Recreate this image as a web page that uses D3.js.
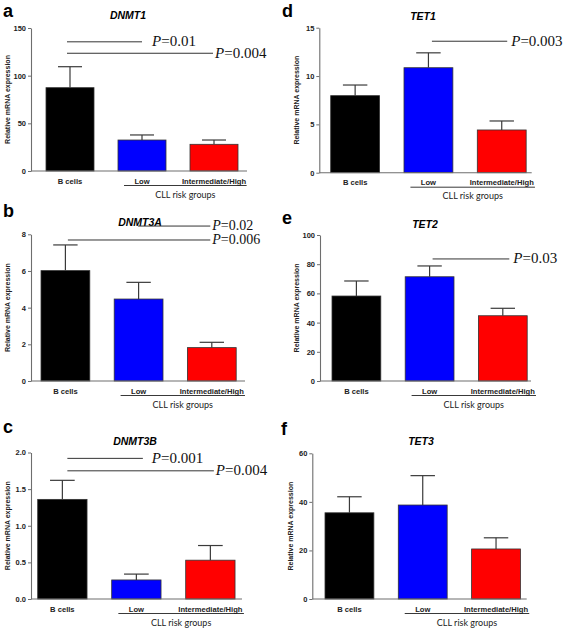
<!DOCTYPE html>
<html>
<head>
<meta charset="utf-8">
<script src="https://cdn.jsdelivr.net/npm/d3@7"></script>
<style>
  html, body { margin: 0; padding: 0; background: #fff; }
  svg { display: block; }
</style>
</head>
<body>
<svg id="chart" width="567" height="630"></svg>
<script>
// ---------------- DATA ----------------
const categories = ["B cells", "Low", "Intermediate/High"];
const groupLabel = "CLL risk groups";
const yAxisTitle = "Relative mRNA expression";

const dnmt1Mean  = [87.4, 32.5, 28.0];
const dnmt1Err   = [22.0, 5.3, 4.5];
const dnmt3aMean = [6.02, 4.47, 1.82];
const dnmt3aErr  = [1.40, 0.91, 0.29];
const dnmt3bMean = [1.36, 0.26, 0.53];
const dnmt3bErr  = [0.26, 0.08, 0.20];
const tet1Mean   = [7.97, 10.86, 4.42];
const tet1Err    = [1.10, 1.54, 0.93];
const tet2Mean   = [58.2, 71.4, 44.7];
const tet2Err    = [10.3, 7.4, 5.1];
const tet3Mean   = [35.5, 38.7, 20.6];
const tet3Err    = [6.6, 12.1, 4.6];

const dnmt1Ticks  = [0, 50, 100, 150];
const dnmt3aTicks = [0, 2, 4, 6, 8];
const dnmt3bTicks = [0, 0.5, 1.0, 1.5, 2.0];
const tet1Ticks   = [0, 5, 10, 15];
const tet2Ticks   = [0, 20, 40, 60, 80, 100];
const tet3Ticks   = [0, 20, 40, 60];

// significance annotations: [from category, to category, p label, y level (data units)]
const dnmt1P  = [["B cells", "Low", "0.01", 135.5], ["B cells", "Intermediate/High", "0.004", 123.5]];
const dnmt3aP = [["Low", "Intermediate/High", "0.02", 8.45], ["B cells", "Intermediate/High", "0.006", 7.69]];
const dnmt3bP = [["B cells", "Low", "0.001", 1.92], ["B cells", "Intermediate/High", "0.004", 1.75]];
const tet1P   = [["Low", "Intermediate/High", "0.003", 13.6]];
const tet2P   = [["Low", "Intermediate/High", "0.03", 83.6]];
const tet3P   = [];

const barColors = ["#000000", "#0000ff", "#ff0000"];

// ---------------- LAYOUT ----------------
const panels = [
  { letter: "a", gene: "DNMT1",  mean: dnmt1Mean,  err: dnmt1Err,  ticks: dnmt1Ticks,  fmt: d3.format("d"),   p: dnmt1P,
    ax: 31,  yTop: 28,    y0: 171,   b0: 46,    step: 72,   axEnd: 247,   lx: 3,   lb: 17,  tx: 128, tb: 19,
    pdx: [[-3, 0, 10], [-3, -1, 2]], pfs: 15, ylx: 7 },
  { letter: "b", gene: "DNMT3A", mean: dnmt3aMean, err: dnmt3aErr, ticks: dnmt3aTicks, fmt: d3.format("d"),   p: dnmt3aP,
    ax: 31,  yTop: 234.3, y0: 381,   b0: 41,    step: 73.2, axEnd: 245,   lx: 3,   lb: 217, tx: 140, tb: 226,
    pdx: [[-0.5, -1.5, 2], [2.5, -1.5, 2]], pfs: 14, ylx: 7 },
  { letter: "c", gene: "DNMT3B", mean: dnmt3bMean, err: dnmt3bErr, ticks: dnmt3bTicks, fmt: d3.format(".1f"), p: dnmt3bP,
    ax: 31,  yTop: 452.5, y0: 599,   b0: 37.7,  step: 74,   axEnd: 242,   lx: 3,   lb: 433, tx: 135, tb: 445,
    pdx: [[5, 6.5, 9], [5, 3.5, 2]], pfs: 15, ylx: 7 },
  { letter: "d", gene: "TET1",   mean: tet1Mean,   err: tet1Err,   ticks: tet1Ticks,   fmt: d3.format("d"),   p: tet1P,
    ax: 319.3, yTop: 27.7, y0: 172.7, b0: 330.7, step: 73.3, axEnd: 531.7, lx: 282, lb: 17,  tx: 423, tb: 20,
    pdx: [[3.5, 5.5, 4]], pfs: 15, ylx: 296 },
  { letter: "e", gene: "TET2",   mean: tet2Mean,   err: tet2Err,   ticks: tet2Ticks,   fmt: d3.format("d"),   p: tet2P,
    ax: 320, yTop: 235,   y0: 381,   b0: 332,   step: 73.2, axEnd: 531,   lx: 282, lb: 224, tx: 425, tb: 228,
    pdx: [[3, 6.5, 4]], pfs: 15, ylx: 296 },
  { letter: "f", gene: "TET3",   mean: tet3Mean,   err: tet3Err,   ticks: tet3Ticks,   fmt: d3.format("d"),   p: tet3P,
    ax: 312.3, yTop: 453.3, y0: 599, b0: 325,   step: 73.3, axEnd: 526.7, lx: 281, lb: 435, tx: 421, tb: 445,
    pdx: [], pfs: 15, ylx: 290 }
];

const svg = d3.select("#chart");
const axisColor = "#6e6e6e";
const sans = "Arial, 'Liberation Sans', sans-serif";

panels.forEach(P => {
  const g = svg.append("g");
  const maxV = P.ticks[P.ticks.length - 1];
  const y = d3.scaleLinear().domain([0, maxV]).range([P.y0, P.yTop]);
  const x = d3.scaleBand().domain(categories)
    .range([P.b0 - P.step / 6, P.b0 - P.step / 6 + 3 * P.step])
    .paddingInner(1 / 3).paddingOuter(1 / 6);
  const bw = x.bandwidth();
  const cx = c => x(c) + bw / 2;

  // panel letter
  g.append("text").attr("x", P.lx).attr("y", P.lb)
    .attr("font-family", sans).attr("font-weight", "bold").attr("font-size", 18)
    .text(P.letter);
  // title
  g.append("text").attr("x", P.tx).attr("y", P.tb).attr("text-anchor", "middle")
    .attr("font-family", sans).attr("font-weight", "bold").attr("font-style", "italic").attr("font-size", 10.5)
    .text(P.gene);

  // bars
  const rows = categories.map((c, i) => ({ c, m: P.mean[i], e: P.err[i], col: barColors[i] }));
  g.selectAll("rect.bar").data(rows).enter().append("rect")
    .attr("x", d => x(d.c)).attr("width", bw)
    .attr("y", d => y(d.m)).attr("height", d => P.y0 - y(d.m))
    .attr("fill", d => d.col).attr("stroke", "#333").attr("stroke-width", 0.8);

  // error bars
  g.selectAll("line.eb").data(rows).enter().append("line")
    .attr("x1", d => cx(d.c)).attr("x2", d => cx(d.c))
    .attr("y1", d => y(d.m)).attr("y2", d => y(d.m + d.e))
    .attr("stroke", "#3a3a3a").attr("stroke-width", 1.2);
  g.selectAll("line.cap").data(rows).enter().append("line")
    .attr("x1", d => cx(d.c) - bw / 4).attr("x2", d => cx(d.c) + bw / 4)
    .attr("y1", d => y(d.m + d.e)).attr("y2", d => y(d.m + d.e))
    .attr("stroke", "#3a3a3a").attr("stroke-width", 1.2);

  // y axis
  const yAxis = d3.axisLeft(y).tickValues(P.ticks).tickFormat(P.fmt).tickSize(3).tickSizeOuter(0).tickPadding(2);
  const ya = g.append("g").attr("transform", `translate(${P.ax},0)`).call(yAxis);
  ya.select(".domain").attr("stroke", axisColor).attr("stroke-width", 1.1);
  ya.selectAll(".tick line").attr("stroke", axisColor);
  ya.selectAll(".tick text").attr("font-family", sans).attr("font-weight", "bold")
    .attr("font-size", 7.5).attr("fill", "#222");

  // x axis line
  g.append("line").attr("x1", P.ax).attr("x2", P.axEnd).attr("y1", P.y0).attr("y2", P.y0)
    .attr("stroke", axisColor).attr("stroke-width", 1.1);

  // category labels
  g.selectAll("text.cat").data(categories).enter().append("text")
    .attr("x", c => cx(c)).attr("y", P.y0 + 12.5).attr("text-anchor", "middle")
    .attr("font-family", sans).attr("font-weight", "bold").attr("font-size", 7.6).attr("fill", "#222")
    .text(c => c);

  // group underline + label
  const ux1 = cx("Low") - 18, ux2 = cx("Intermediate/High") + bw * 0.68;
  g.append("line").attr("x1", ux1).attr("x2", ux2).attr("y1", P.y0 + 14.5).attr("y2", P.y0 + 14.5)
    .attr("stroke", "#222").attr("stroke-width", 0.9);
  g.append("text").attr("x", (ux1 + ux2) / 2).attr("y", P.y0 + 26.5).attr("text-anchor", "middle")
    .attr("font-family", "Lato, 'Open Sans', sans-serif").attr("font-size", 9).attr("fill", "#222")
    .text(groupLabel);

  // y axis title
  g.append("text")
    .attr("transform", `translate(${P.ylx + 2.5},${(P.y0 + P.yTop) / 2}) rotate(-90)`)
    .attr("text-anchor", "middle")
    .attr("font-family", sans).attr("font-weight", "bold").attr("font-size", 7).attr("fill", "#222")
    .text(yAxisTitle);

  // significance lines
  P.p.forEach((a, i) => {
    const [from, to, pv, lvl] = a;
    const [d1, d2, gap] = P.pdx[i];
    const x1 = cx(from) + d1, x2 = cx(to) + d2, yy = y(lvl);
    g.append("line").attr("x1", x1).attr("x2", x2).attr("y1", yy).attr("y2", yy)
      .attr("stroke", "#333").attr("stroke-width", 1);
    const t = g.append("text").attr("x", x2 + gap).attr("y", yy + 4.3)
      .attr("font-family", "'Liberation Serif', 'Times New Roman', serif").attr("font-size", P.pfs).attr("fill", "#111");
    t.append("tspan").attr("font-style", "italic").text("P");
    t.append("tspan").text("=" + pv);
  });
});
</script>
</body>
</html>
